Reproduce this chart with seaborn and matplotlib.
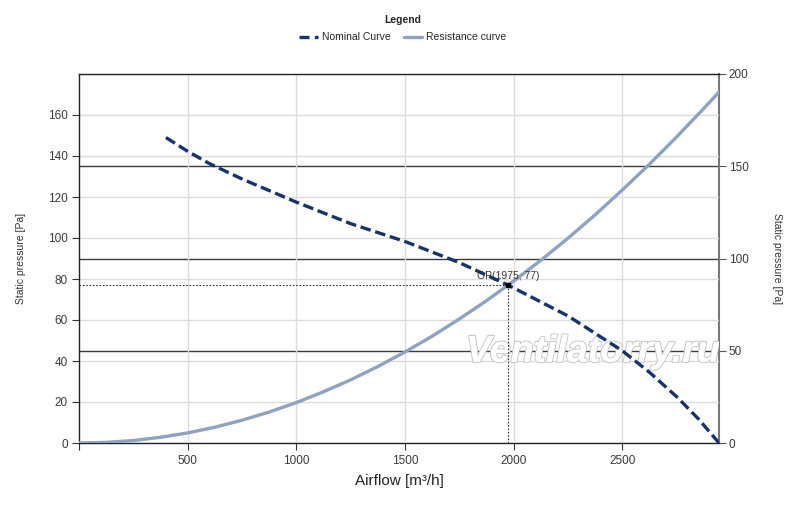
import numpy as np
import pandas as pd
import matplotlib
matplotlib.use("Agg")
import matplotlib.pyplot as plt
import matplotlib.patheffects as pe
from matplotlib.lines import Line2D
import seaborn as sns

# ---- data ----
nominal_airflow = [400, 500, 600, 750, 1000, 1250, 1500, 1750, 1975, 2250, 2500, 2625, 2750, 2850, 2945]
nominal_pressure = [149, 142.3, 136.3, 128.8, 117.5, 107, 98.3, 88, 77, 62, 45, 34.5, 22.6, 11.8, 0]

resist_airflow = [0, 125, 250, 375, 500, 625, 750, 875, 1000, 1125, 1250, 1375, 1500, 1625,
                  1750, 1875, 2000, 2125, 2250, 2375, 2500, 2625, 2750, 2875, 2945]
resist_pressure = [0, 0.3, 1.2, 2.8, 4.9, 7.7, 11.1, 15.1, 19.7, 25.0, 30.8, 37.3, 44.4, 52.1,
                   60.5, 69.4, 79.0, 89.1, 99.9, 111.3, 123.4, 136.0, 149.3, 163.2, 171.2]

op_airflow = 1975
op_pressure = 77

x_ticks = [500, 1000, 1500, 2000, 2500]
left_ticks = [0, 20, 40, 60, 80, 100, 120, 140, 160]
right_ticks = [0, 50, 100, 150, 200]

sns.set_theme(style="white")
plt.rcParams['font.family'] = ['Liberation Sans', 'DejaVu Sans']

NAVY = "#16346c"
STEEL = "#8ea3c2"
DASH = [3.2, 1.4]

fig = plt.figure(figsize=(8.0, 5.07), dpi=100)
ax = fig.add_axes([79/800, 64/507, 640/800, 369/507])

df_nom = pd.DataFrame({"Airflow": nominal_airflow, "Pressure": nominal_pressure})
df_res = pd.DataFrame({"Airflow": resist_airflow, "Pressure": resist_pressure})

ax.set_xlim(0, 2945)
ax.set_ylim(0, 180)

# light grid
for t in left_ticks + [180]:
    ax.axhline(t, color="#dcdcdc", lw=1.0, zorder=0)
for t in x_ticks:
    ax.axvline(t, color="#dcdcdc", lw=1.0, zorder=0)

ax2 = ax.twinx()
ax2.set_ylim(0, 200)
for t in [50, 100, 150]:
    ax2.axhline(t, color="#3a3a3a", lw=1.0, zorder=1)
ax2.set_zorder(0)
ax.set_zorder(1)
ax.patch.set_visible(False)

sns.lineplot(data=df_res, x="Airflow", y="Pressure", ax=ax, color=STEEL, lw=2.4,
             legend=False, zorder=3)
sns.lineplot(data=df_nom, x="Airflow", y="Pressure", ax=ax, color=NAVY, lw=2.4,
             legend=False, zorder=4)
ax.lines[-1].set_dashes(DASH)

# operating point
ax.plot([0, op_airflow], [op_pressure, op_pressure], color="#333333", lw=0.8, ls=(0, (1.5, 1.5)), zorder=5)
ax.plot([op_airflow, op_airflow], [0, op_pressure], color="#333333", lw=0.8, ls=(0, (1.5, 1.5)), zorder=5)
ax.scatter([op_airflow], [op_pressure], marker="s", s=8, color="black", zorder=6)
ax.text(op_airflow, op_pressure + 2.2, f"OP({op_airflow}, {op_pressure})", fontsize=7.5,
        color="#333333", ha="center", va="bottom", zorder=6)

# watermark
ax.text(2365, 44.5, "Ventilatorry.ru", fontsize=27, fontstyle="italic", fontweight="bold",
        color="white", ha="center", va="center", zorder=2, clip_on=True,
        path_effects=[pe.withStroke(linewidth=1.6, foreground="#c8c8c8"), pe.Normal()])

# ticks & labels
ax.set_xticks(x_ticks)
ax.set_xticks([0], minor=True)
ax.set_yticks(left_ticks)
ax2.set_yticks(right_ticks)
ax.tick_params(axis="both", which="both", direction="out", length=5, width=0.8, color="#333333",
               labelsize=8.5, labelcolor="#3a3a3a", bottom=True, left=True, pad=3)
ax.tick_params(axis="x", pad=4)
ax2.tick_params(axis="y", direction="out", length=5, width=0.8, color="#555555",
                labelsize=8.5, labelcolor="#3a3a3a", right=True, pad=2)

ax.set_xlabel("Airflow [m³/h]", fontsize=11, color="#222222", labelpad=5)
ax.set_ylabel("Static pressure [Pa]", fontsize=7.5, color="#333333", labelpad=16)
ax2.set_ylabel("Static pressure [Pa]", fontsize=7.5, color="#333333", rotation=270, labelpad=24)

for s in ["left", "bottom", "top"]:
    ax.spines[s].set_color("#222222")
    ax.spines[s].set_linewidth(1.0)
ax.spines["right"].set_visible(False)
for s in ["left", "bottom", "top"]:
    ax2.spines[s].set_visible(False)
ax2.spines["right"].set_color("#777777")
ax2.spines["right"].set_linewidth(1.5)

# legend
h_nom = Line2D([], [], color=NAVY, lw=2.4, dashes=[3, 1.6])
h_res = Line2D([], [], color=STEEL, lw=2.4)
leg = fig.legend([h_nom, h_res], ["Nominal Curve", "Resistance curve"], loc="upper center",
                 bbox_to_anchor=(403/800, 1 - 8/507), ncol=2, frameon=False, fontsize=7.5,
                 title="Legend", title_fontproperties={"weight": "bold", "size": 7.5},
                 handlelength=1.8, columnspacing=1.2, handletextpad=0.4, borderpad=0.2,
                 labelspacing=0.2)
leg._legend_box.sep = 5

fig.savefig("out.png", dpi=100, facecolor="white")
